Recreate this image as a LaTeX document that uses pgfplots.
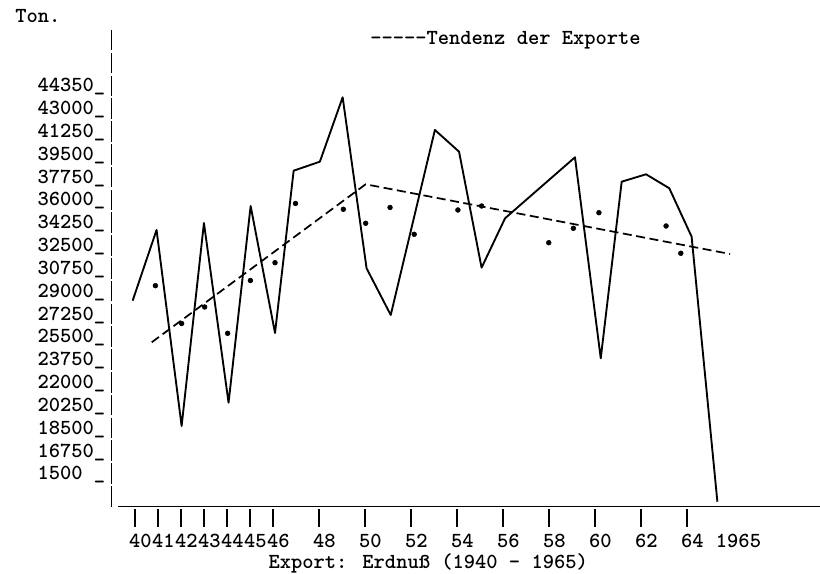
\documentclass[border=0pt]{standalone}
\usepackage{pgfplots}
\pgfplotsset{compat=1.18}
\newcommand\tf{\fontsize{16.1pt}{19pt}\selectfont\ttfamily\bfseries}
\begin{document}
\begin{tikzpicture}[font=\tf]
\useasboundingbox (0,0) rectangle (615pt,-430.5pt);
\begin{axis}[
  at={(83.775pt,-379.875pt)}, anchor=south west,
  scale only axis, width=531.2pt, height=357.4pt,
  xmin=38.99, xmax=69.78, ymin=13351, ymax=49861,
  scaled y ticks=false, scaled x ticks=false,
  axis x line=bottom, axis y line=left,
  axis line style={-, line width=1.1pt, black},
  x axis line style={shorten <=5pt},
  y axis line style={dash pattern=on 15.4pt off 1.7pt},
  tick align=outside,
  major tick length=13.5pt,
  xtick={40,41,42,43,44,45,46,48,50,52,54,56,58,60,62,64},
  xticklabels={40,41,42,43,44,45,46,48,50,52,54,56,58,60,62,64},
  extra x ticks={66},
  extra x tick labels={1965},
  extra x tick style={xtick style={draw=none}},
  xtick style={line width=1pt, black, yshift=-2pt},
  ytick={15000,16750,18500,20250,22000,23750,25500,27250,29000,30750,32500,34250,36000,37750,39500,41250,43000,44750},
  yticklabels={{1500~\_},{16750\_},{18500\_},{20250\_},{22000\_},{23750\_},{25500\_},{27250\_},{29000\_},{30750\_},{32500\_},{34250\_},{36000\_},{37750\_},{39500\_},{41250\_},{43000\_},{44350\_}},
  ytick style={draw=none},
  tick label style={font=\tf},
  xticklabel style={anchor=base, xshift=4.1pt, yshift=-17.25pt, inner sep=0pt},
  yticklabel style={anchor=base west, xshift=-42.3pt, yshift=3.75pt, inner sep=0pt},
  clip=false,
]
\addplot[black, line width=1.4pt, line join=round] coordinates {
(39.90,29120) (40.94,34537) (42.03,19519) (43.00,35073) (44.07,21304)
(45.03,36375) (46.09,26645) (46.90,39080) (48.04,39770) (49.03,44704)
(50.07,31602) (51.12,28024) (53.04,42199) (54.09,40536) (55.07,31648)
(56.09,35433) (59.13,40107) (60.25,24706) (61.16,38237) (62.22,38804)
(63.23,37732) (64.20,34023) (65.32,13719)
};
\addplot[black, line width=1.3pt, dash pattern=on 6.75pt off 3.4pt] coordinates {
(40.73,25932) (50.03,38038) (65.87,32698)
};
\addplot[only marks, mark=*, mark size=1.8pt, black] coordinates {
(40.89,30269) (42.03,27373) (43.03,28637) (44.03,26622) (45.02,30667)
(46.09,32031) (46.98,36567) (49.06,36123) (50.03,35050) (51.09,36261)
(52.14,34207) (54.04,36069) (55.07,36375) (57.99,33563) (59.06,34667)
(60.17,35862) (63.09,34843) (63.73,32751)
};
\end{axis}
\node[anchor=base west, inner sep=0pt] at (11.25pt,-17pt) {Ton.};
\node[anchor=base west, inner sep=0pt] at (277.5pt,-33.75pt) {-{}-{}-{}-{}-Tendenz der Exporte};
\node[anchor=base west, inner sep=0pt] at (201.2pt,-426pt) {Export: Erdnuß (1940 - 1965)};
\end{tikzpicture}
\end{document}
